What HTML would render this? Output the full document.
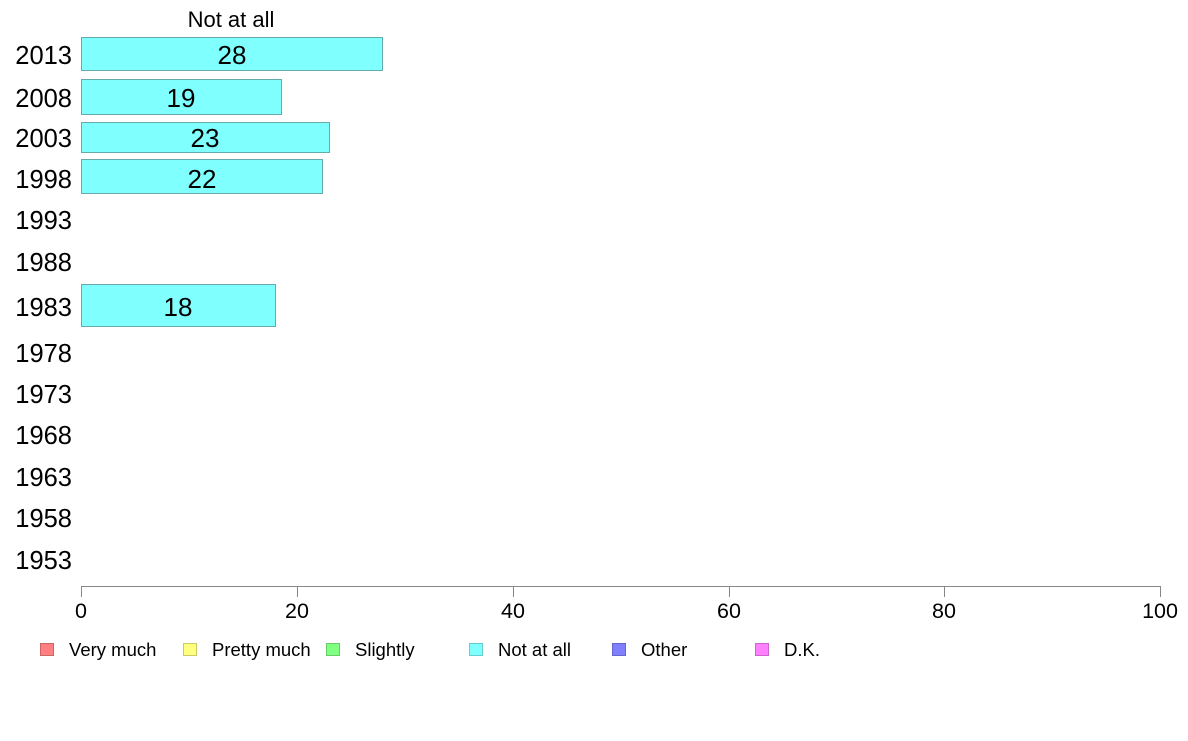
<!DOCTYPE html>
<html><head><style>body{margin:0;background:#fff}</style></head><body>
<svg width="1188" height="736" xmlns="http://www.w3.org/2000/svg" font-family="Liberation Sans, sans-serif">
<rect width="1188" height="736" fill="#fff"/>
<text x="231" y="27" font-size="22" text-anchor="middle">Not at all</text>
<g font-size="25.5" text-anchor="end">
<text x="72" y="64">2013</text><text x="72" y="107">2008</text><text x="72" y="147">2003</text><text x="72" y="188">1998</text>
<text x="72" y="229">1993</text><text x="72" y="271">1988</text><text x="72" y="316">1983</text><text x="72" y="362">1978</text>
<text x="72" y="403">1973</text><text x="72" y="444">1968</text><text x="72" y="486">1963</text><text x="72" y="527">1958</text><text x="72" y="569">1953</text>
</g>
<g fill="#80ffff" stroke="#66aaaa" stroke-width="1">
<rect x="81.5" y="37.5" width="301" height="33"/>
<rect x="81.5" y="79.5" width="200" height="35"/>
<rect x="81.5" y="122.5" width="248" height="30"/>
<rect x="81.5" y="159.5" width="241" height="34"/>
<rect x="81.5" y="284.5" width="194" height="42"/>
</g>
<g font-size="26" text-anchor="middle">
<text x="232" y="64">28</text><text x="181" y="107">19</text><text x="205" y="147">23</text><text x="202" y="188">22</text><text x="178" y="316">18</text>
</g>
<g stroke="#888" stroke-width="1">
<line x1="81.5" y1="586.5" x2="1160.5" y2="586.5"/>
<line x1="81.5" y1="586" x2="81.5" y2="597"/><line x1="297.5" y1="586" x2="297.5" y2="597"/>
<line x1="513.5" y1="586" x2="513.5" y2="597"/><line x1="729.5" y1="586" x2="729.5" y2="597"/>
<line x1="944.5" y1="586" x2="944.5" y2="597"/><line x1="1160.5" y1="586" x2="1160.5" y2="597"/>
</g>
<g font-size="21.5" text-anchor="middle">
<text x="81" y="618">0</text><text x="297" y="618">20</text><text x="513" y="618">40</text><text x="729" y="618">60</text><text x="944" y="618">80</text><text x="1160" y="618">100</text>
</g>
<g font-size="18.5">
<rect x="40.5" y="643.5" width="13" height="12" fill="#ff8080" stroke="#cc6666"/><text x="69" y="656">Very much</text>
<rect x="183.5" y="643.5" width="13" height="12" fill="#ffff80" stroke="#cccc66"/><text x="212" y="656">Pretty much</text>
<rect x="326.5" y="643.5" width="13" height="12" fill="#80ff80" stroke="#66cc66"/><text x="355" y="656">Slightly</text>
<rect x="469.5" y="643.5" width="13" height="12" fill="#80ffff" stroke="#66cccc"/><text x="498" y="656">Not at all</text>
<rect x="612.5" y="643.5" width="13" height="12" fill="#8080ff" stroke="#6666cc"/><text x="641" y="656">Other</text>
<rect x="755.5" y="643.5" width="13" height="12" fill="#ff80ff" stroke="#cc66cc"/><text x="784" y="656">D.K.</text>
</g>
</svg>
</body></html>
